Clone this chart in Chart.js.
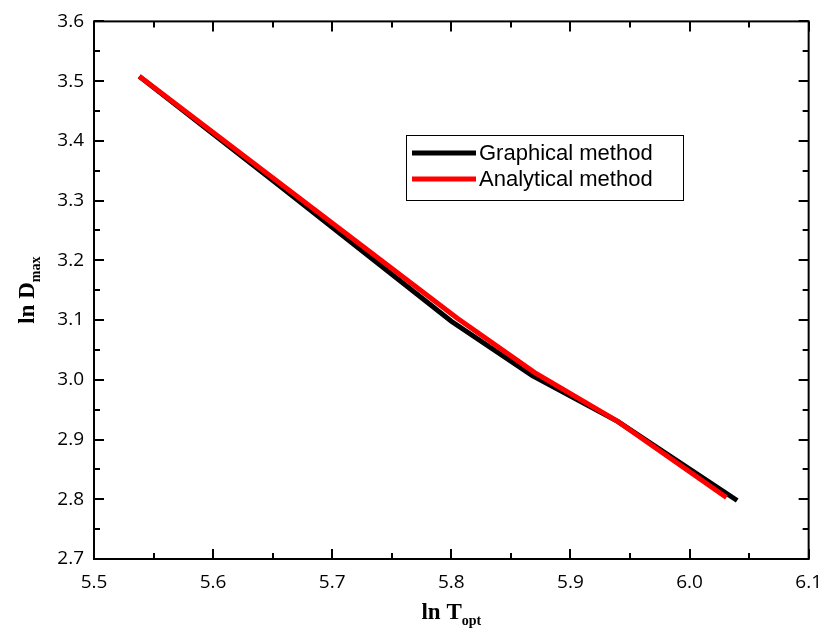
<!DOCTYPE html>
<html>
<head>
<meta charset="utf-8">
<script src="https://cdn.jsdelivr.net/npm/chart.js@4"></script>
<style>
  html, body { margin: 0; padding: 0; background: #fff; }
  #wrap { width: 834px; height: 639px; position: relative; }
</style>
</head>
<body>
<div id="wrap"><canvas id="c" width="834" height="639"></canvas></div>
<script>
// ln Topt vs ln Dmax
const graphicalX = [5.538, 5.655, 5.800, 5.868, 5.940, 6.040]
const graphicalY = [3.508, 3.326, 3.098, 3.007, 2.930, 2.798]
const analyticalX = [5.538, 5.805, 5.870, 5.940, 6.031]
const analyticalY = [3.508, 3.103, 3.012, 2.930, 2.803]
const seriesNames = ['Graphical method', 'Analytical method']
const xTicks = [5.5, 5.6, 5.7, 5.8, 5.9, 6.0, 6.1]
const yTicks = [2.7, 2.8, 2.9, 3.0, 3.1, 3.2, 3.3, 3.4, 3.5, 3.6]

const pts = (xs, ys) => xs.map((x, i) => ({ x, y: ys[i] }))

// frame, inward ticks (major + minor) on all four sides
const framePlugin = {
  id: 'frame',
  afterDraw(chart) {
    const { ctx, chartArea: a, scales: { x, y } } = chart
    ctx.save()
    ctx.strokeStyle = '#000'
    ctx.lineWidth = 2
    ctx.strokeRect(a.left, a.top, a.right - a.left, a.bottom - a.top)
    ctx.beginPath()
    xTicks.forEach((v, i) => {
      const px = Math.round(x.getPixelForValue(v))
      ctx.moveTo(px, a.bottom); ctx.lineTo(px, a.bottom - 10)
      ctx.moveTo(px, a.top);    ctx.lineTo(px, a.top + 10)
      if (i < xTicks.length - 1) {
        const mx = Math.round(x.getPixelForValue((v + xTicks[i+1]) / 2))
        ctx.moveTo(mx, a.bottom); ctx.lineTo(mx, a.bottom - 6)
        ctx.moveTo(mx, a.top);    ctx.lineTo(mx, a.top + 6)
      }
    })
    yTicks.forEach((v, i) => {
      const py = Math.round(y.getPixelForValue(v))
      ctx.moveTo(a.left, py);  ctx.lineTo(a.left + 10, py)
      ctx.moveTo(a.right, py); ctx.lineTo(a.right - 10, py)
      if (i < yTicks.length - 1) {
        const my = Math.round(y.getPixelForValue((v + yTicks[i+1]) / 2))
        ctx.moveTo(a.left, my);  ctx.lineTo(a.left + 6, my)
        ctx.moveTo(a.right, my); ctx.lineTo(a.right - 6, my)
      }
    })
    ctx.stroke()

    // axis titles with subscripts
    ctx.fillStyle = '#000'
    ctx.textBaseline = 'alphabetic'
    const big = 'bold 23px "Liberation Serif", serif'
    const small = 'bold 14px "Liberation Serif", serif'
    // x title
    ctx.font = big
    const w1 = ctx.measureText('ln T').width
    ctx.font = small
    const w2 = ctx.measureText('opt').width
    let sx = (a.left + a.right) / 2 - (w1 + w2) / 2
    ctx.font = big
    ctx.fillText('ln T', sx, 619)
    ctx.font = small
    ctx.fillText('opt', sx + w1, 625)
    // y title
    ctx.save()
    ctx.translate(34, (a.top + a.bottom) / 2)
    ctx.rotate(-Math.PI / 2)
    ctx.font = big
    const v1 = ctx.measureText('ln D').width
    ctx.font = small
    const v2 = ctx.measureText('max').width
    sx = -(v1 + v2) / 2
    ctx.font = big
    ctx.fillText('ln D', sx, 0)
    ctx.font = small
    ctx.fillText('max', sx + v1, 6)
    ctx.restore()

    // legend box
    const lx = 406, ly = 135, lw = 277, lh = 65
    ctx.fillStyle = '#fff'
    ctx.fillRect(lx, ly, lw, lh)
    ctx.lineWidth = 1
    ctx.strokeStyle = '#000'
    ctx.strokeRect(lx + 0.5, ly + 0.5, lw, lh)
    ctx.font = '22px "Liberation Sans", Arial, sans-serif'
    ctx.textBaseline = 'middle'
    chart.data.datasets.forEach((ds, i) => {
      const yy = ly + 18 + i * 26
      ctx.strokeStyle = ds.borderColor
      ctx.lineWidth = 5
      ctx.beginPath(); ctx.moveTo(lx + 6, yy); ctx.lineTo(lx + 70, yy); ctx.stroke()
      ctx.fillStyle = '#000'
      ctx.fillText(ds.label, lx + 73, yy + 1)
    })
    ctx.restore()
  }
}

new Chart(document.getElementById('c'), {
  type: 'scatter',
  data: {
    datasets: [
      { label: seriesNames[0], data: pts(graphicalX, graphicalY), showLine: true,
        borderColor: '#000', borderWidth: 5, pointRadius: 0, tension: 0, order: 2 },
      { label: seriesNames[1], data: pts(analyticalX, analyticalY), showLine: true,
        borderColor: '#ff0000', borderWidth: 5, pointRadius: 0, tension: 0, order: 1 },
    ]
  },
  plugins: [framePlugin],
  options: {
    responsive: false, animation: false,
    layout: { padding: { top: 19, right: 19, left: 0, bottom: 0 } },
    plugins: { legend: { display: false }, tooltip: { enabled: false } },
    scales: {
      x: {
        type: 'linear', min: 5.5, max: 6.1,
        afterBuildTicks: s => { s.ticks = xTicks.map(v => ({ value: v })) },
        afterFit: s => { s.height = 80 },
        grid: { display: false, drawTicks: false }, border: { display: false },
        ticks: { color: '#000', padding: 12, font: { family: '"Open Sans", sans-serif', size: 19 },
                 callback: v => v.toFixed(1) }
      },
      y: {
        type: 'linear', min: 2.7, max: 3.6,
        afterBuildTicks: s => { s.ticks = yTicks.map(v => ({ value: v })) },
        afterFit: s => { s.width = 94 },
        grid: { display: false, drawTicks: false }, border: { display: false },
        ticks: { color: '#000', padding: 10, font: { family: '"Open Sans", sans-serif', size: 19 },
                 callback: v => v.toFixed(1) }
      }
    }
  }
})
</script>
</body>
</html>
